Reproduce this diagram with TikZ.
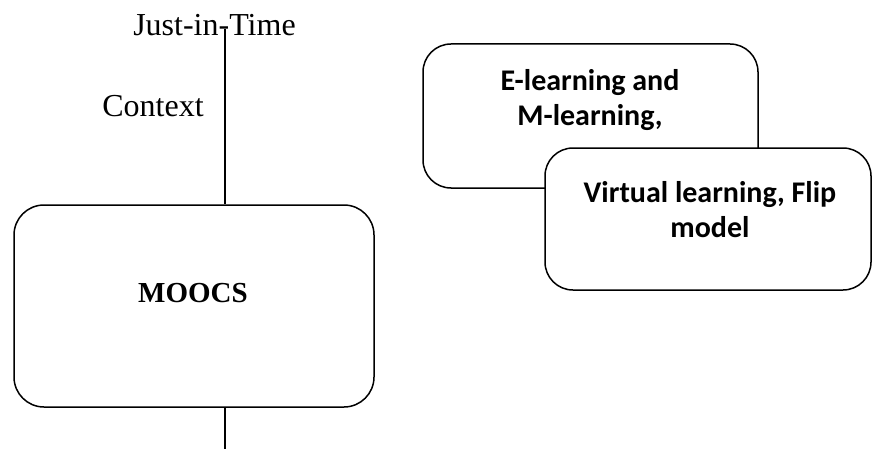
\documentclass[tikz,border=0pt]{standalone}
\usepackage{fontspec}
\setmainfont{Liberation Serif}
\newfontfamily\bodysans{Carlito}
\begin{document}
\begin{tikzpicture}[x=0.5pt,y=-0.5pt,
  box/.style={draw=black, line width=0.75pt, fill=white, rounded corners=#1},
  box/.default=14pt,
  serifl/.style={font=\fontsize{16}{19}\selectfont, inner sep=0pt},
  sanslab/.style={font=\bodysans\bfseries\fontsize{15}{17.5}\selectfont, inner sep=0pt, align=center},
  link/.style={draw=black, line width=0.75pt}]
\useasboundingbox (0,0) rectangle (872,449);

% left column: MOOCS with its time line
\node[box=15pt, minimum width=180pt, minimum height=101pt] (moocs) at (194,306) {};
\node[font=\fontsize{14.5}{17}\selectfont\bfseries, inner sep=0pt, anchor=base] (moocslab) at (193,302) {MOOCS};
\node[serifl, anchor=base] (jit) at (214.5,36) {Just-in-Time};
\node[serifl, anchor=base] (context) at (153,117) {Context};
\coordinate (ltop) at (225,29);
\coordinate (lbot) at (225,449);
\draw[link] (ltop) -- (ltop |- moocs.north);
\draw[link] (ltop |- moocs.south) -- (lbot);

% right: overlapping boxes
\node[box, minimum width=167.5pt, minimum height=72pt] (elearn) at (590.5,116) {};
\node[sanslab] (elearnlab) at (590,100) {E-learning and\\M-learning,};
\node[box, minimum width=163pt, minimum height=71pt] (virtual) at (708,219) {};
\node[sanslab] (virtuallab) at (710,210) {Virtual learning, Flip\\model};
\end{tikzpicture}
\end{document}
